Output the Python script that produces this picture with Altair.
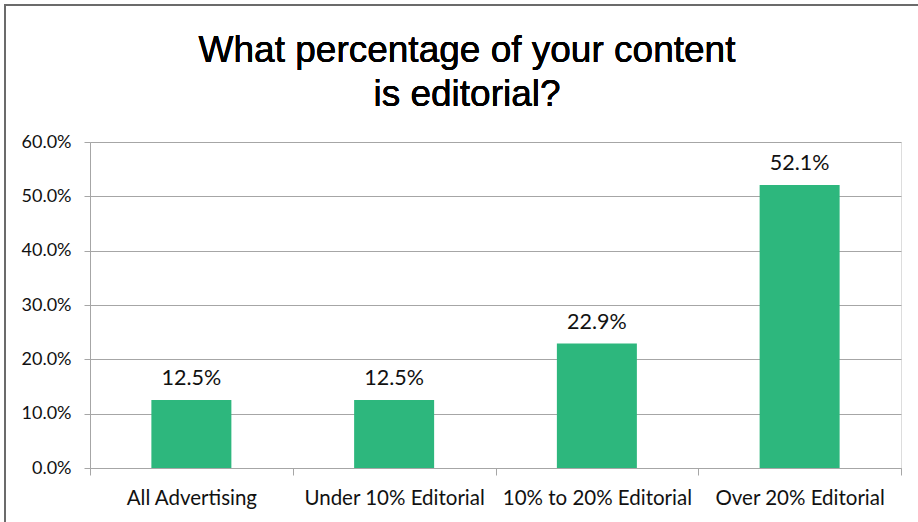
import altair as alt
import pandas as pd

categories = ["All Advertising", "Under 10% Editorial", "10% to 20% Editorial", "Over 20% Editorial"]
values = [0.125, 0.125, 0.229, 0.521]
y_ticks = [0.0, 0.1, 0.2, 0.3, 0.4, 0.5, 0.6]
title_lines = ["What percentage of your content", "is editorial?"]

df = pd.DataFrame({"category": categories, "value": values})

LABEL_FONT = "Lato"
GRID = "#a6a6a6"

x_enc = alt.X("category:N", sort=categories, title=None,
              scale=alt.Scale(paddingInner=0, paddingOuter=0),
              axis=alt.Axis(labelAngle=0, labelFont=LABEL_FONT, labelFontSize=20.5,
                            labelColor="#111111", labelPadding=13, tickBand="extent",
                            labelLimit=0, tickSize=7, tickColor=GRID, domainColor=GRID,
                            grid=False))
y_enc = alt.Y("value:Q", title=None,
              scale=alt.Scale(domain=[0, 0.6], nice=False),
              axis=alt.Axis(values=y_ticks, format=".1%", labelFont=LABEL_FONT,
                            labelFontSize=18, labelColor="#111111", labelPadding=13,
                            tickSize=6, tickColor=GRID, domainColor=GRID,
                            gridColor=GRID, gridWidth=1))

base = alt.Chart(df)

bars = base.mark_bar(color="#2db77d", width=80).encode(x=x_enc, y=y_enc)

labels = base.mark_text(baseline="bottom", dy=-10, font=LABEL_FONT, fontSize=21.5,
                        color="#111111").encode(
    x=alt.X("category:N", sort=categories),
    y=alt.Y("value:Q"),
    text=alt.Text("value:Q", format=".1%"))

border = alt.Chart(df).mark_rect(fill=None, stroke="#6b6b6b", strokeWidth=2).encode(
    x=alt.value(-85), x2=alt.value(900), y=alt.value(-137), y2=alt.value(420))

title_marks = [
    alt.Chart(df).mark_text(font="Liberation Sans", fontSize=37, color="#000000",
                            baseline="alphabetic", align="center").encode(
        x=alt.value(377), y=alt.value(yy), text=alt.value(line))
    for line, yy in zip(title_lines, [-80, -36])
]

chart = alt.layer(bars, labels, border, *title_marks).properties(
    width=811, height=326,
    autosize=alt.AutoSizeParams(type="none"),
    padding={"left": 90, "top": 142, "right": 17, "bottom": 54},
).configure_view(stroke=None).configure(background="white")

chart.save("out.html", embed_options={"renderer": "svg", "actions": False})
